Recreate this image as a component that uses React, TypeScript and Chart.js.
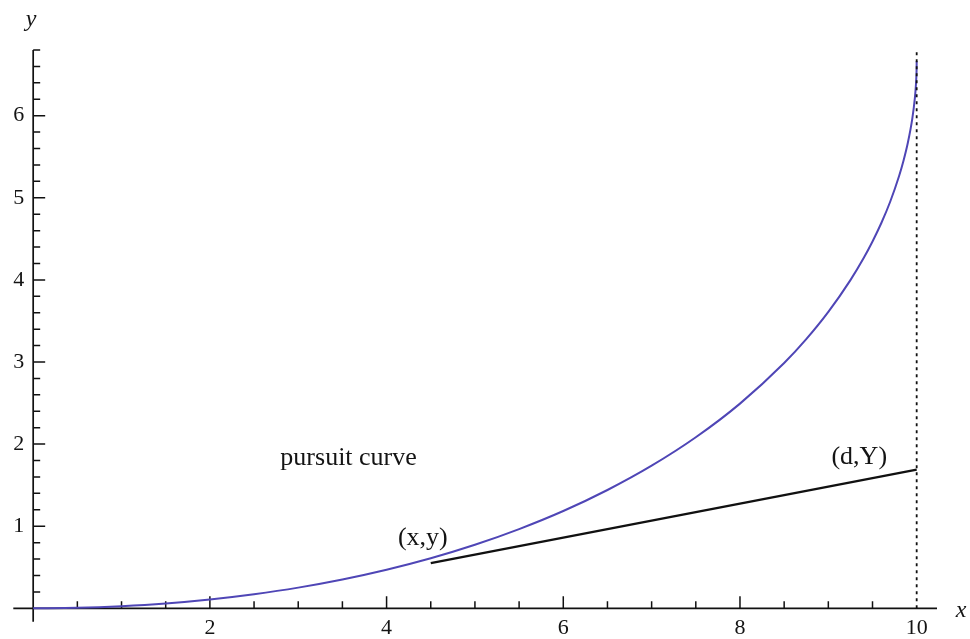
import React, { useEffect, useRef } from 'react';
import { Chart, registerables } from 'chart.js';

Chart.register(...registerables);

// Pursuit curve
const curveX = [0, 0.5, 1, 1.5, 2, 2.5, 3, 3.5, 4, 4.5, 5, 5.5, 6, 6.5, 7, 7.5, 8, 8.5, 8.75, 9, 9.25, 9.4, 9.5, 9.6, 9.7, 9.8, 9.85, 9.9, 9.95, 9.98, 9.99, 9.995, 9.999, 10];
const curveY = [0, 0.006, 0.026, 0.059, 0.108, 0.172, 0.252, 0.351, 0.47, 0.61, 0.774, 0.965, 1.185, 1.441, 1.737, 2.083, 2.493, 2.987, 3.278, 3.61, 3.997, 4.266, 4.468, 4.693, 4.952, 5.262, 5.448, 5.67, 5.961, 6.22, 6.351, 6.443, 6.567, 6.667];

// Line of sight from (x,y) to (d,Y)
const sightX = [4.5, 10];
const sightY = [0.55, 1.69];

// Path of the target (dashed vertical line x = d)
const targetX = [10, 10];
const targetY = [0, 6.8];

// Axis ranges and tick labels
const xRange = [-0.225, 10.23];
const yRange = [-0.163, 6.8];
const xMinorStep = 0.5;
const yMinorStep = 0.2;
const xTickLabels = ['2', '4', '6', '8', '10'];
const yTickLabels = ['1', '2', '3', '4', '5', '6'];
const xAxisTitle = 'x';
const yAxisTitle = 'y';

// Annotations
const noteTexts = ['pursuit curve', '(x,y)', '(d,Y)'];
const noteX = [3.57, 4.41, 9.35];
const noteY = [1.83, 0.86, 1.84];

const TEXT_COLOR = '#141414';
const SERIF = '"Liberation Serif", "Times New Roman", serif';

const toPoints = (xs: number[], ys: number[]) => xs.map((x, i) => ({ x, y: ys[i] }));

const axesPlugin = {
  id: 'mathematicaAxes',
  beforeDatasetsDraw(chart: any) {
    const { ctx, chartArea } = chart;
    const xs = chart.scales.x;
    const ys = chart.scales.y;
    const x0 = xs.getPixelForValue(0);
    const y0 = ys.getPixelForValue(0);
    const xMajor = xTickLabels.map(Number);
    const yMajor = yTickLabels.map(Number);
    const isMajor = (v: number, list: number[]) => list.some((m) => Math.abs(m - v) < 1e-6);

    ctx.save();
    ctx.strokeStyle = '#111';
    ctx.lineWidth = 1.7;
    ctx.beginPath();
    ctx.moveTo(chartArea.left, y0);
    ctx.lineTo(chartArea.right, y0);
    ctx.moveTo(x0, chartArea.top);
    ctx.lineTo(x0, chartArea.bottom);
    ctx.stroke();

    ctx.lineWidth = 1.5;
    ctx.beginPath();
    xs.ticks.forEach((t: any) => {
      const v = t.value;
      if (v <= 1e-6 || v > 10.2) return;
      const px = xs.getPixelForValue(v);
      const len = isMajor(v, xMajor) ? 12 : 7;
      ctx.moveTo(px, y0);
      ctx.lineTo(px, y0 - len);
    });
    ys.ticks.forEach((t: any) => {
      const v = t.value;
      if (v <= 1e-6 || v > yRange[1] + 1e-6) return;
      const py = ys.getPixelForValue(v);
      const len = isMajor(v, yMajor) ? 12 : 7;
      ctx.moveTo(x0, py);
      ctx.lineTo(x0 + len, py);
    });
    ctx.stroke();

    ctx.fillStyle = TEXT_COLOR;
    ctx.font = `22px ${SERIF}`;
    ctx.textAlign = 'center';
    ctx.textBaseline = 'middle';
    xTickLabels.forEach((lab) => {
      const px = xs.getPixelForValue(Number(lab));
      ctx.fillText(lab, px, y0 + 20);
    });
    ctx.textAlign = 'right';
    yTickLabels.forEach((lab) => {
      const py = ys.getPixelForValue(Number(lab));
      ctx.fillText(lab, x0 - 9, py);
    });

    ctx.font = `italic 24px ${SERIF}`;
    ctx.textAlign = 'center';
    ctx.fillText(xAxisTitle, chartArea.right + 24, y0 + 2);
    ctx.fillText(yAxisTitle, x0 - 2, chartArea.top - 30);
    ctx.restore();
  },
  afterDatasetsDraw(chart: any) {
    const { ctx } = chart;
    const xs = chart.scales.x;
    const ys = chart.scales.y;
    ctx.save();
    ctx.fillStyle = TEXT_COLOR;
    ctx.font = `26px ${SERIF}`;
    ctx.textAlign = 'center';
    ctx.textBaseline = 'middle';
    noteTexts.forEach((txt, i) => {
      ctx.fillText(txt, xs.getPixelForValue(noteX[i]), ys.getPixelForValue(noteY[i]));
    });
    ctx.restore();
  },
};

export default function App() {
  const canvasRef = useRef<HTMLCanvasElement | null>(null);

  useEffect(() => {
    const canvas = canvasRef.current;
    if (!canvas) return;
    const hiddenAxis = {
      grid: { display: false, drawTicks: false, tickLength: 0 },
      border: { display: false },
    };
    const chart = new Chart(canvas, {
      type: 'scatter',
      data: {
        datasets: [
          {
            label: 'target path',
            data: toPoints(targetX, targetY),
            showLine: true,
            borderColor: '#111',
            borderWidth: 1.8,
            borderDash: [3, 4],
            pointRadius: 0,
          },
          {
            label: 'line of sight',
            data: toPoints(sightX, sightY),
            showLine: true,
            borderColor: '#111',
            borderWidth: 2.4,
            pointRadius: 0,
          },
          {
            label: 'pursuit curve',
            data: toPoints(curveX, curveY),
            showLine: true,
            borderColor: '#4f46b6',
            borderWidth: 2,
            pointRadius: 0,
            cubicInterpolationMode: 'monotone',
          },
        ],
      },
      options: {
        responsive: false,
        animation: false,
        devicePixelRatio: 1,
        layout: { padding: { left: 13.3, right: 33, top: 50, bottom: 17.3 } },
        plugins: {
          legend: { display: false },
          tooltip: { enabled: false },
        },
        events: [],
        scales: {
          x: {
            type: 'linear',
            min: xRange[0],
            max: xRange[1],
            ticks: { display: false, stepSize: xMinorStep, padding: 0 },
            ...hiddenAxis,
          },
          y: {
            type: 'linear',
            min: yRange[0],
            max: yRange[1],
            ticks: { display: false, stepSize: yMinorStep, padding: 0 },
            ...hiddenAxis,
          },
        },
      },
      plugins: [axesPlugin],
    } as any);
    return () => chart.destroy();
  }, []);

  return (
    <div style={{ position: 'absolute', left: 0, top: 0, width: 970, height: 639, background: '#fff' }}>
      <canvas ref={canvasRef} width={970} height={639} style={{ display: 'block' }} />
    </div>
  );
}
